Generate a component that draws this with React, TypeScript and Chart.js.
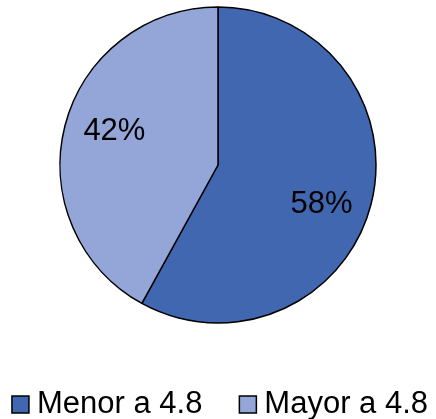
import React, { useEffect, useRef } from "react";
import { Chart, registerables } from "chart.js";

Chart.register(...registerables);

const categories = ["Menor a 4.8", "Mayor a 4.8"];
const values = [58, 42];
const colors = ["#4167B1", "#94A5D7"];

const labelPlugin = {
  id: "pieLabels",
  afterDatasetsDraw(chart: any) {
    const ctx = chart.ctx;
    const meta = chart.getDatasetMeta(0);
    const total = values.reduce((a, b) => a + b, 0);
    ctx.save();
    ctx.font = "31px 'Liberation Sans', Arial, sans-serif";
    ctx.fillStyle = "#000";
    ctx.textAlign = "center";
    ctx.textBaseline = "middle";
    meta.data.forEach((arc: any, i: number) => {
      const { x, y, startAngle, endAngle, outerRadius } = arc.getProps(
        ["x", "y", "startAngle", "endAngle", "outerRadius"],
        true
      );
      const mid = (startAngle + endAngle) / 2 + (5.2 * Math.PI) / 180;
      const r = outerRadius * 0.696;
      const pct = Math.round((values[i] / total) * 100) + "%";
      ctx.fillText(pct, x + Math.cos(mid) * r, y + Math.sin(mid) * r + 3);
    });
    ctx.restore();
  },
  afterDraw(chart: any) {
    const ctx = chart.ctx;
    const box = 17;
    const gapBoxText = 8;
    const gapItems = 37;
    ctx.save();
    ctx.font = "31px 'Liberation Sans', Arial, sans-serif";
    const widths = categories.map((c) => ctx.measureText(c).width);
    let total = 0;
    widths.forEach((w, i) => {
      total += box + gapBoxText + w + (i < widths.length - 1 ? gapItems : 0);
    });
    let x = (chart.width - total) / 2 + 2;
    const baseline = 413;
    categories.forEach((c, i) => {
      ctx.fillStyle = colors[i];
      ctx.fillRect(x, baseline - box, box, box);
      ctx.strokeStyle = "#000";
      ctx.lineWidth = 1.5;
      ctx.strokeRect(x, baseline - box, box, box);
      ctx.fillStyle = "#000";
      ctx.textAlign = "left";
      ctx.textBaseline = "alphabetic";
      ctx.fillText(c, x + box + gapBoxText, baseline);
      x += box + gapBoxText + widths[i] + gapItems;
    });
    ctx.restore();
  },
};

export default function App() {
  const ref = useRef<HTMLCanvasElement | null>(null);
  useEffect(() => {
    if (!ref.current) return;
    const chart = new Chart(ref.current, {
      type: "pie",
      data: {
        labels: categories,
        datasets: [
          {
            data: values,
            backgroundColor: colors,
            borderColor: "#000",
            borderWidth: 1.5,
          },
        ],
      },
      options: {
        responsive: false,
        animation: false,
        radius: 158,
        layout: { padding: { top: 7, bottom: 96, left: 0, right: 0 } },
        plugins: {
          legend: { display: false },
          tooltip: { enabled: false },
        },
      } as any,
      plugins: [labelPlugin],
    });
    return () => chart.destroy();
  }, []);
  return (
    <div style={{ position: "absolute", left: 0, top: 0, width: 436, height: 419, background: "#fff" }}>
      <canvas ref={ref} width={436} height={419} style={{ width: 436, height: 419 }} />
    </div>
  );
}
